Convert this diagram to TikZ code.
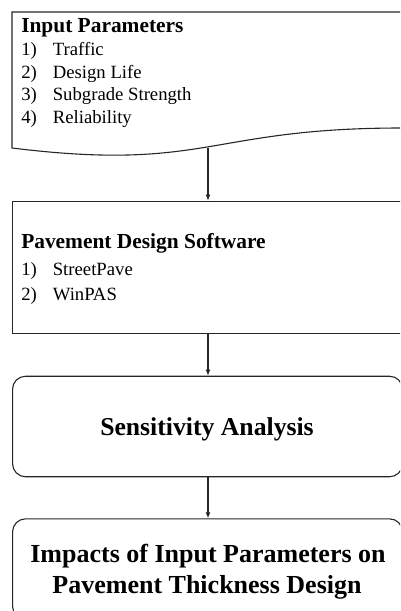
\documentclass[tikz,border=0pt]{standalone}
\usepackage{fontspec}
\setmainfont{Liberation Serif}
\usetikzlibrary{arrows.meta}
\begin{document}
\begin{tikzpicture}[x=1pt,y=-1pt,
  line width=1.1pt,
  boxline/.style={draw=black!85, line width=1.1pt},
  arr/.style={draw=black!85, line width=1.1pt, -{Latex[length=6pt,width=5pt]}},
  txt/.style={inner sep=0pt, anchor=base west, font=\fontsize{18.7}{22}\selectfont},
  head/.style={inner sep=0pt, anchor=base west, font=\fontsize{21.4}{24}\selectfont\bfseries},
  big/.style={inner sep=0pt, anchor=base, font=\fontsize{26}{30}\selectfont\bfseries},
  rbox/.style={boxline, rounded corners=13pt, minimum width=390pt, minimum height=100.5pt, anchor=north west, inner sep=0pt},
  sbox/.style={boxline, minimum width=390pt, minimum height=132.6pt, anchor=north west, inner sep=0pt}]
\useasboundingbox (0,0) rectangle (400,611);
\begin{scope}
\clip (0,0) rectangle (400,611);
% box 1: document shape
\draw[boxline] (12,148) -- (12,12) -- (402,12) -- (402,128)
   .. controls (207,128) and (207,172) .. (12,148) -- cycle;
\coordinate (w1) at (208,147.5);
\node[head] (h1) at (20.7,32.3) {Input Parameters};
\node[txt] (n11) at (20.7,55) {1)};
\node[txt] (t11) at (52.3,55) {Traffic};
\node[txt] (n12) at (20.7,78.3) {2)};
\node[txt] (t12) at (52.3,78.3) {Design Life};
\node[txt] (n13) at (20.7,100.7) {3)};
\node[txt] (t13) at (52.3,100.7) {Subgrade Strength};
\node[txt] (n14) at (20.7,123.3) {4)};
\node[txt] (t14) at (52.3,123.3) {Reliability};
% box 2
\node[sbox] (b2) at (12,200.7) {};
\node[head] (h2) at (20.7,248.3) {Pavement Design Software};
\node[txt] (n21) at (20.7,275) {1)};
\node[txt] (t21) at (52.3,275) {StreetPave};
\node[txt] (n22) at (20.7,300) {2)};
\node[txt] (t22) at (52.3,300) {WinPAS};
% box 3
\node[rbox] (b3) at (12,375.7) {};
\node[big, font=\fontsize{25.7}{30}\selectfont\bfseries] (s3) at (207,435) {Sensitivity Analysis};
% box 4
\node[rbox] (b4) at (12,518.3) {};
\node[big] (l41) at (208,562) {Impacts of Input Parameters on};
\node[big] (l42) at (207,593) {Pavement Thickness Design};
% arrows
\draw[arr] (w1) -- (w1 |- b2.north);
\draw[arr] (w1 |- b2.south) -- (w1 |- b3.north);
\draw[arr] (w1 |- b3.south) -- (w1 |- b4.north);
\end{scope}
\end{tikzpicture}
\end{document}
